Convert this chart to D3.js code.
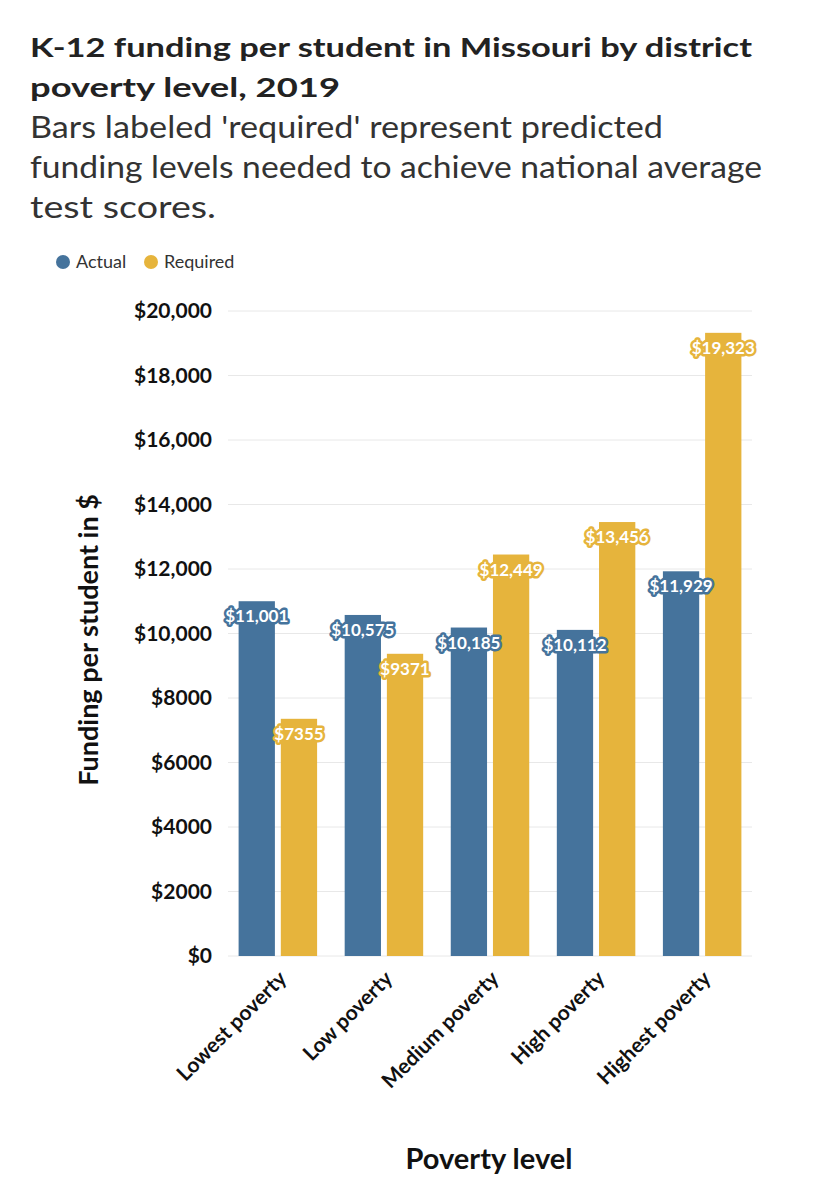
<!DOCTYPE html><html><head><meta charset="utf-8">
<script src="https://cdn.jsdelivr.net/npm/d3@7"></script>
<style>body{margin:0;background:#fff;font-family:Lato,"Noto Sans",sans-serif}</style></head><body>
<svg id="c" width="827" height="1200"></svg>
<script>
const categories=["Lowest poverty","Low poverty","Medium poverty","High poverty","Highest poverty"];
const actual=[11001,10575,10185,10112,11929];
const required=[7355,9371,12449,13456,19323];
const yTicks=[0,2000,4000,6000,8000,10000,12000,14000,16000,18000,20000];
const seriesNames=["Actual","Required"];
const colors=["#45739c","#e6b43c"];
const svg=d3.select("#c");
const fmt=v=>v>=10000?"$"+d3.format(",")(v):"$"+v;
svg.append("text").attr("x",30).attr("y",57).attr("font-size",27).attr("font-weight",700).attr("fill","#222").attr("textLength",722).attr("lengthAdjust","spacingAndGlyphs").text("K-12 funding per student in Missouri by district");
svg.append("text").attr("x",30).attr("y",97).attr("font-size",27).attr("font-weight",700).attr("fill","#222").attr("textLength",310).attr("lengthAdjust","spacingAndGlyphs").text("poverty level, 2019");
const subs=["Bars labeled 'required' represent predicted","funding levels needed to achieve national average","test scores."],sl=[633,732,186];
subs.forEach((t,i)=>
svg.append("text").attr("x",30).attr("y",138+i*40).attr("font-size",30).attr("fill","#333").attr("textLength",sl[i]).attr("lengthAdjust","spacingAndGlyphs").text(t));
seriesNames.forEach((s,i)=>{const x=[63,151][i];
svg.append("circle").attr("cx",x).attr("cy",262).attr("r",7).attr("fill",colors[i]);
svg.append("text").attr("x",x+13).attr("y",268).attr("font-size",18).attr("fill","#333").text(s);});
const y=d3.scaleLinear().domain([0,20000]).range([956,311]);
const x0=d3.scaleBand().domain(categories).range([228,752]).paddingInner(0.26).paddingOuter(0.1);
const x1=d3.scaleBand().domain(seriesNames).range([0,x0.bandwidth()]).paddingInner(0.14);
svg.append("g").selectAll("line").data(yTicks).join("line").attr("x1",228).attr("x2",752).attr("y1",d=>y(d)).attr("y2",d=>y(d)).attr("stroke","#e8e8e8");
svg.append("g").attr("transform","translate(228,0)").call(d3.axisLeft(y).tickValues(yTicks).tickSize(0).tickPadding(16).tickFormat(fmt))
 .call(g=>{g.select(".domain").remove();g.selectAll("text").attr("font-size",21).attr("font-weight",700).attr("fill","#111").attr("font-family","Lato,sans-serif");});
const data=categories.map((c,i)=>({c,v:[actual[i],required[i]]}));
const gs=svg.append("g").selectAll("g").data(data).join("g").attr("transform",d=>`translate(${x0(d.c)},0)`);
gs.each(function(d){const g=d3.select(this);
 d.v.forEach((v,j)=>{const bx=x1(seriesNames[j]);
  g.append("rect").attr("x",bx).attr("width",x1.bandwidth()).attr("y",y(v)).attr("height",956-y(v)).attr("fill",colors[j]);
 });
 d.v.forEach((v,j)=>{const cx=x1(seriesNames[j])+x1.bandwidth()/2;
  g.append("text").attr("x",cx).attr("y",y(v)+21).attr("text-anchor","middle").attr("font-size",17).attr("font-weight",700)
   .attr("fill","#fff").attr("stroke",colors[j]).attr("stroke-width",5).attr("stroke-linejoin","round").attr("paint-order","stroke").text(fmt(v));
 });
});
svg.append("g").attr("transform","translate(0,956)").call(d3.axisBottom(x0).tickSize(0).tickPadding(0))
 .call(g=>{g.select(".domain").remove();g.selectAll("text").attr("font-size",21).attr("font-weight",700).attr("fill","#111").attr("font-family","Lato,sans-serif")
  .attr("text-anchor","end").attr("dy",0).attr("transform","translate(10,24) rotate(-45)");});
svg.append("text").attr("transform","translate(98,640) rotate(-90)").attr("text-anchor","middle").attr("font-size",27).attr("font-weight",700).attr("fill","#111").text("Funding per student in $");
svg.append("text").attr("x",489).attr("y",1169).attr("text-anchor","middle").attr("font-size",29).attr("font-weight",700).attr("fill","#111").text("Poverty level");
</script></body></html>
